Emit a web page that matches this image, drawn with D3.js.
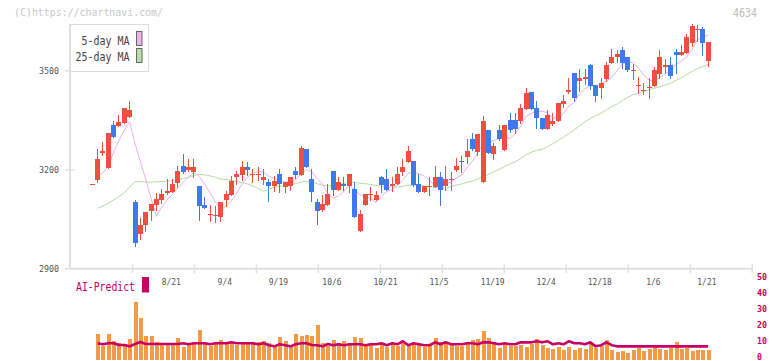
<!DOCTYPE html>
<html><head><meta charset="utf-8">
<script src="https://cdn.jsdelivr.net/npm/d3@7/dist/d3.min.js"></script>
<style>body{margin:0;background:#fff;}svg{display:block;}</style>
</head><body>
<svg id="c" width="772" height="361"></svg>
<script>
// ---------- data ----------
const dates = ["7/30","7/31","8/1","8/4","8/5","8/6","8/7","8/8","8/12","8/13","8/14","8/15","8/18","8/19","8/20","8/21","8/22","8/25","8/26","8/27","8/28","8/29",
"9/1","9/2","9/3","9/4","9/5","9/8","9/9","9/10","9/11","9/12","9/16","9/17","9/18","9/19","9/22","9/24","9/25","9/26","9/29","9/30",
"10/1","10/2","10/3","10/6","10/7","10/8","10/9","10/10","10/14","10/15","10/16","10/17","10/20","10/21","10/22","10/23","10/24","10/27","10/28","10/29","10/30","10/31",
"11/4","11/5","11/6","11/7","11/10","11/11","11/12","11/13","11/14","11/17","11/18","11/19","11/20","11/21","11/25","11/26","11/27","11/28",
"12/1","12/2","12/3","12/4","12/5","12/8","12/9","12/10","12/11","12/12","12/15","12/16","12/17","12/18","12/19","12/22","12/23","12/24","12/25","12/26","12/29","12/30",
"1/5","1/6","1/7","1/8","1/9","1/13","1/14","1/15","1/16","1/19","1/20","1/21"];
const open = [3155,3168,3249,3205,3335,3330,3339,3360,3101,3004,3030,3075,3092,3107,3128,3131,3160,3210,3198,3193,
3150,3092,3063,3061,3054,3107,3123,3177,3183,3206,3184,3184,3168,3162,3148,3186,3145,3148,3195,3183,
3262,3171,3101,3077,3092,3195,3138,3156,3148,3141,3014,3092,3123,3107,3177,3171,3148,3154,3192,3222,
3225,3156,3130,3146,3145,3177,3148,3170,3198,3225,3238,3292,3253,3162,3320,3247,3320,3259,3350,3350,
3347,3384,3435,3386,3356,3323,3338,3347,3398,3433,3492,3469,3475,3516,3456,3447,3474,3523,3541,3562,
3541,3499,3454,3439,3447,3453,3489,3509,3516,3556,3545,3553,3583,3623,3626,3529];
const high = [3155,3262,3282,3311,3347,3365,3386,3407,3107,3052,3071,3095,3128,3140,3172,3172,3210,3247,3231,3231,
3150,3117,3092,3089,3101,3133,3179,3196,3225,3222,3201,3206,3201,3171,3180,3201,3162,3177,3207,3271,
3262,3201,3110,3122,3156,3195,3177,3177,3186,3162,3077,3126,3147,3135,3180,3201,3178,3206,3232,3271,
3225,3186,3148,3178,3210,3192,3210,3192,3234,3241,3292,3310,3307,3362,3320,3280,3335,3335,3370,3370,
3398,3447,3435,3407,3356,3380,3372,3401,3426,3476,3492,3503,3504,3519,3456,3477,3526,3565,3562,3571,
3541,3519,3480,3462,3477,3510,3562,3535,3541,3565,3577,3610,3641,3638,3632,3586];
const low = [3155,3163,3244,3205,3299,3330,3339,3360,2969,2990,3014,3047,3077,3099,3125,3131,3145,3189,3195,3176,
3047,3083,3044,3039,3044,3089,3123,3154,3168,3184,3162,3168,3154,3105,3135,3132,3130,3138,3174,3183,
3207,3105,3035,3074,3092,3123,3138,3138,3132,3054,3014,3092,3107,3107,3130,3138,3133,3154,3183,3222,
3148,3130,3130,3121,3145,3092,3138,3138,3195,3192,3219,3259,3244,3162,3248,3232,3289,3259,3313,3309,
3340,3384,3384,3325,3323,3323,3335,3347,3389,3431,3408,3438,3459,3444,3408,3416,3468,3523,3525,3507,
3498,3474,3432,3429,3416,3453,3477,3492,3477,3492,3545,3553,3574,3589,3547,3513];
const close = [3155,3232,3256,3311,3299,3342,3386,3380,2978,3032,3071,3095,3110,3126,3133,3156,3196,3191,3206,3206,
3089,3083,3065,3063,3101,3126,3165,3186,3206,3199,3186,3186,3177,3148,3165,3154,3162,3177,3183,3265,
3207,3131,3075,3095,3126,3138,3162,3148,3186,3054,3065,3126,3126,3123,3153,3138,3156,3186,3207,3256,
3153,3130,3148,3148,3177,3138,3171,3172,3210,3221,3256,3262,3307,3347,3248,3271,3292,3335,3320,3323,
3386,3432,3384,3354,3323,3365,3347,3401,3407,3441,3416,3478,3481,3453,3423,3462,3516,3541,3550,3523,
3501,3501,3456,3441,3449,3501,3541,3516,3483,3545,3556,3601,3635,3626,3584,3586];
const ma5 = [null,3178,3189,3211,3250.6,3288,3318.8,3343.6,3277,3223.6,3169.4,3111.2,3057.2,3086.8,3107,3124,3144.2,3160.4,3176.4,3191,
3177.6,3155,3129.8,3101.2,3080.2,3087.6,3104,3128.2,3156.8,3176.4,3188.4,3192.6,3190.8,3179.2,3172.4,3166,3161.2,3161.2,3168.2,3188.2,
3198.8,3192.6,3172.2,3154.6,3126.8,3113,3119.2,3133.8,3152,3137.6,3123,3115.8,3111.4,3098.8,3118.6,3133.2,3139.2,3151.2,3168,3188.6,
3191.6,3186.4,3178.8,3167,3151.2,3148.2,3156.4,3161.2,3173.6,3182.4,3206,3224.2,3251.2,3278.6,3284,3287,3293,3298.6,3293.2,3308.2,
3331.2,3359.2,3369,3375.8,3375.8,3371.6,3354.6,3358,3368.6,3392.2,3402.4,3428.6,3444.6,3453.8,3450.2,3459.4,3467,3479,3498.4,3518.4,
3526.2,3523.2,3506.2,3484.4,3469.6,3469.6,3477.6,3489.6,3498,3517.2,3528.2,3540.2,3564,3592.6,3600.4,3606.4];
const ma25 = [null,3082,3089,3097,3107,3117,3129,3146,3163,3162,3161,3161,3162,3163,3164,3166,3169,3172,3176,3181,
3185,3183,3180,3176,3170.5,3169.3,3166.6,3163.8,3159.6,3155.6,3149.4,3141.4,3133.3,3140.1,3145.4,3148.7,3151.4,3154.1,3156.4,3161.6,
3163.7,3161.1,3156.4,3152,3148.8,3150.8,3153.9,3157.2,3162.2,3160.3,3157.8,3156.3,3153.9,3150.6,3148.7,3146.8,3145.6,3146,3148.3,3152,
3151.9,3150.6,3149.5,3148.1,3144.6,3141.8,3143.4,3147.3,3151.9,3155.7,3160.4,3164.4,3170.8,3177.2,3185,3193.2,3199.8,3208.2,3216.1,3222.9,
3232.8,3243.8,3251.8,3257.6,3260.3,3268.8,3277.5,3287.6,3298,3308.5,3319.6,3331.9,3344.3,3354,3362.1,3370.3,3380.5,3389.8,3398,3409,
3418.2,3426.5,3431.4,3436.2,3441.2,3445.8,3450.2,3455.5,3460.6,3469.5,3477.2,3487.3,3496.7,3505.4,3511.2,3518];
const volume = [0,26,14,26,19,17,16,21,58,42,24,24,18,15,15,15,22,13,15,17,
30,18,14,17,20,18,17,15,18,16,18,18,19,17,13,23,19,15,26,24,
25,24,35,17,14,20,17,19,15,23,22,14,15,12,16,13,16,14,17,14,
16,15,13,16,22,18,17,15,14,14,18,20,21,29,22,18,12,16,14,14,
15,13,16,21,15,12,11,13,10,13,10,12,11,18,12,14,20,10,8,9,
7,10,12,9,11,13,11,10,12,18,11,12,9,10,10,10];
const aiPredict = [null,9.0,8.4,9.0,9.0,7.9,7.9,7.1,8.6,9.8,8.6,8.6,8.6,8.6,8.6,8.6,8.6,9.0,8.4,9.0,
9.0,9.0,8.4,9.0,9.0,9.0,9.6,9.0,9.0,9.0,9.0,8.4,9.0,7.8,7.1,8.4,7.8,7.1,8.4,9.0,
9.0,7.9,7.8,7.1,8.6,7.8,8.4,7.8,8.4,8.4,8.4,7.8,8.4,8.4,9.0,7.8,9.0,8.4,10.3,7.8,
9.0,8.4,7.8,7.8,9.6,8.4,9.6,8.4,8.4,8.4,9.0,9.0,8.4,9.6,9.6,9.0,8.4,9.0,8.4,8.4,
9.6,9.6,9.6,10.3,9.6,10.3,8.4,9.0,8.4,10.3,9.0,9.0,8.4,9.6,7.1,7.8,9.6,7.8,7.1,7.1,
7.1,7.1,7.1,7.1,7.1,7.1,7.1,7.1,7.1,7.1,7.1,7.1,7.1,7.1,7.1,7.1];
const priceTicks = [2900, 3200, 3500];
const dateLabels = ["8/21","9/4","9/19","10/6","10/21","11/5","11/19","12/4","12/18","1/6","1/21"];
const aiTicks = [0, 10, 20, 30, 40, 50];
const axisDivisions = [1,2,3,4,5,6,7,8,9,10,11];

// ---------- drawing ----------
const mono = "'DejaVu Sans Mono', 'Liberation Mono', monospace";
const axisColor = "#e0e0e0";
const red = "#f04f3f", blue = "#3f7ae8", magenta = "#c80064";
const svg = d3.select("#c");
svg.append("rect").attr("width",772).attr("height",361).attr("fill","#fff");

const x = d3.scalePoint().domain(dates).range([91.7, 707.7]);
const y = d3.scaleLinear().domain([2900, 3500]).range([268.3, 70.3]);
const yVol = d3.scaleLinear().domain([0, 60]).range([360, 300]);
const yAI = d3.scaleLinear().domain([0, 50]).range([357.7, 277.7]);
const idx = d3.range(dates.length);
const cx = i => Math.round(x(dates[i]));

// watermark + code
svg.append("text").attr("x",14).attr("y",15.5).text("(C)https://chartnavi.com/")
  .attr("font-family",mono).attr("font-size",11).attr("fill","#c8c8c8")
  .attr("textLength",149).attr("lengthAdjust","spacingAndGlyphs");
svg.append("text").attr("x",733).attr("y",16.5).text("4634")
  .attr("font-family",mono).attr("font-size",12.5).attr("fill","#bdbdbd")
  .attr("textLength",24).attr("lengthAdjust","spacingAndGlyphs");

// y axis
const gy = svg.append("g").attr("transform","translate(70,0)")
  .call(d3.axisLeft(y).tickValues(priceTicks).tickSizeInner(5).tickSizeOuter(0).tickPadding(6).tickFormat(d3.format("d")));
gy.select(".domain").remove();
gy.selectAll(".tick line").attr("x1",4).attr("stroke",axisColor).attr("stroke-width",1.5);
gy.selectAll(".tick text").attr("font-family",mono).attr("font-size",9).attr("fill","#555")
  .attr("textLength",20).attr("lengthAdjust","spacingAndGlyphs");
svg.append("line").attr("x1",70).attr("x2",70).attr("y1",24).attr("y2",268.3)
  .attr("stroke",axisColor).attr("stroke-width",2);

// x axis line + division ticks
const tickPos = d3.scaleLinear().domain([0, 11]).range([70, 751.7]);
const gt = svg.append("g").attr("transform","translate(0,268.3)")
  .call(d3.axisBottom(tickPos).tickValues(axisDivisions).tickSizeInner(5).tickSizeOuter(0).tickFormat(""));
gt.select(".domain").attr("stroke",axisColor).attr("stroke-width",2);
gt.selectAll(".tick line").attr("y1",-4).attr("stroke",axisColor).attr("stroke-width",1.5);

// date labels
const gx = svg.append("g").attr("transform","translate(-1.3,268.3)")
  .call(d3.axisBottom(x).tickValues(dateLabels).tickSize(0).tickPadding(10));
gx.select(".domain").remove();
gx.selectAll(".tick text").attr("font-family",mono).attr("font-size",9).attr("fill","#555")
  .attr("textLength",d => 4.8*d.length).attr("lengthAdjust","spacingAndGlyphs");

// moving averages
const maLine = arr => d3.line().defined(i => arr[i] != null).x(i => x(dates[i]) + 0.5).y(i => y(arr[i]));
svg.append("path").attr("d", maLine(ma25)(idx)).attr("fill","none").attr("stroke","#b6dca4").attr("stroke-width",1);
svg.append("path").attr("d", maLine(ma5)(idx)).attr("fill","none").attr("stroke","#e8b2ee").attr("stroke-width",1);

// candles
const col = i => close[i] >= open[i] ? red : blue;
const gc = svg.append("g").attr("shape-rendering","crispEdges");
gc.selectAll("line").data(idx).join("line")
  .attr("x1", i => cx(i) + 0.5).attr("x2", i => cx(i) + 0.5)
  .attr("y1", i => Math.round(y(high[i]))).attr("y2", i => Math.round(y(low[i])) + 1)
  .attr("stroke", col).attr("stroke-width",1);
gc.selectAll("rect").data(idx).join("rect")
  .attr("x", i => cx(i) - 2).attr("width", 5)
  .attr("y", i => Math.round(y(Math.max(open[i], close[i]))))
  .attr("height", i => Math.max(1, Math.round(y(Math.min(open[i], close[i]))) - Math.round(y(Math.max(open[i], close[i])))))
  .attr("fill", col);

// legend
svg.append("rect").attr("x",70.5).attr("y",24.5).attr("width",78).attr("height",47)
  .attr("fill","#fff").attr("stroke","#dcdcdc");
const legendItems = [["5-day MA","#e8b4ea",31.5,44.5],["25-day MA","#b8dcaa",48.5,61]];
legendItems.forEach(([label, fill, ry, ty]) => {
  svg.append("text").attr("x",129.5).attr("y",ty).attr("text-anchor","end").text(label)
    .attr("font-family",mono).attr("font-size",12).attr("fill","#444")
    .attr("textLength",6*label.length).attr("lengthAdjust","spacingAndGlyphs");
  svg.append("rect").attr("x",136.5).attr("y",ry).attr("width",5.5).attr("height",14)
    .attr("fill",fill).attr("stroke","#666").attr("stroke-width",1);
});

// volume
svg.append("g").attr("shape-rendering","crispEdges").selectAll("rect").data(idx.filter(i => volume[i] > 0)).join("rect")
  .attr("x", i => cx(i) - 1).attr("width", 4)
  .attr("y", i => Math.round(yVol(volume[i]))).attr("height", i => 360 - Math.round(yVol(volume[i])))
  .attr("fill","#f29a48");

// AI predict line
svg.append("path")
  .attr("d", d3.line().defined(i => aiPredict[i] != null).x(i => x(dates[i]) + 0.5).y(i => yAI(aiPredict[i]))(idx))
  .attr("fill","none").attr("stroke",magenta).attr("stroke-width",2.6).attr("stroke-linejoin","round");

// AI label and axis
svg.append("text").attr("x",76).attr("y",290.5).text("AI-Predict")
  .attr("font-family",mono).attr("font-size",12).attr("fill",magenta)
  .attr("textLength",59).attr("lengthAdjust","spacingAndGlyphs");
svg.append("rect").attr("x",142).attr("y",277).attr("width",7).attr("height",15.5).attr("fill",magenta);
const ga = svg.append("g").attr("transform","translate(752,-1.2)")
  .call(d3.axisRight(yAI).tickValues(aiTicks).tickSize(0).tickPadding(5));
ga.select(".domain").remove();
ga.selectAll(".tick text").attr("font-family",mono).attr("font-size",8.5).attr("font-weight","bold").attr("fill",magenta)
  .attr("textLength",d => 5*String(d).length).attr("lengthAdjust","spacingAndGlyphs");
</script>
</body></html>
